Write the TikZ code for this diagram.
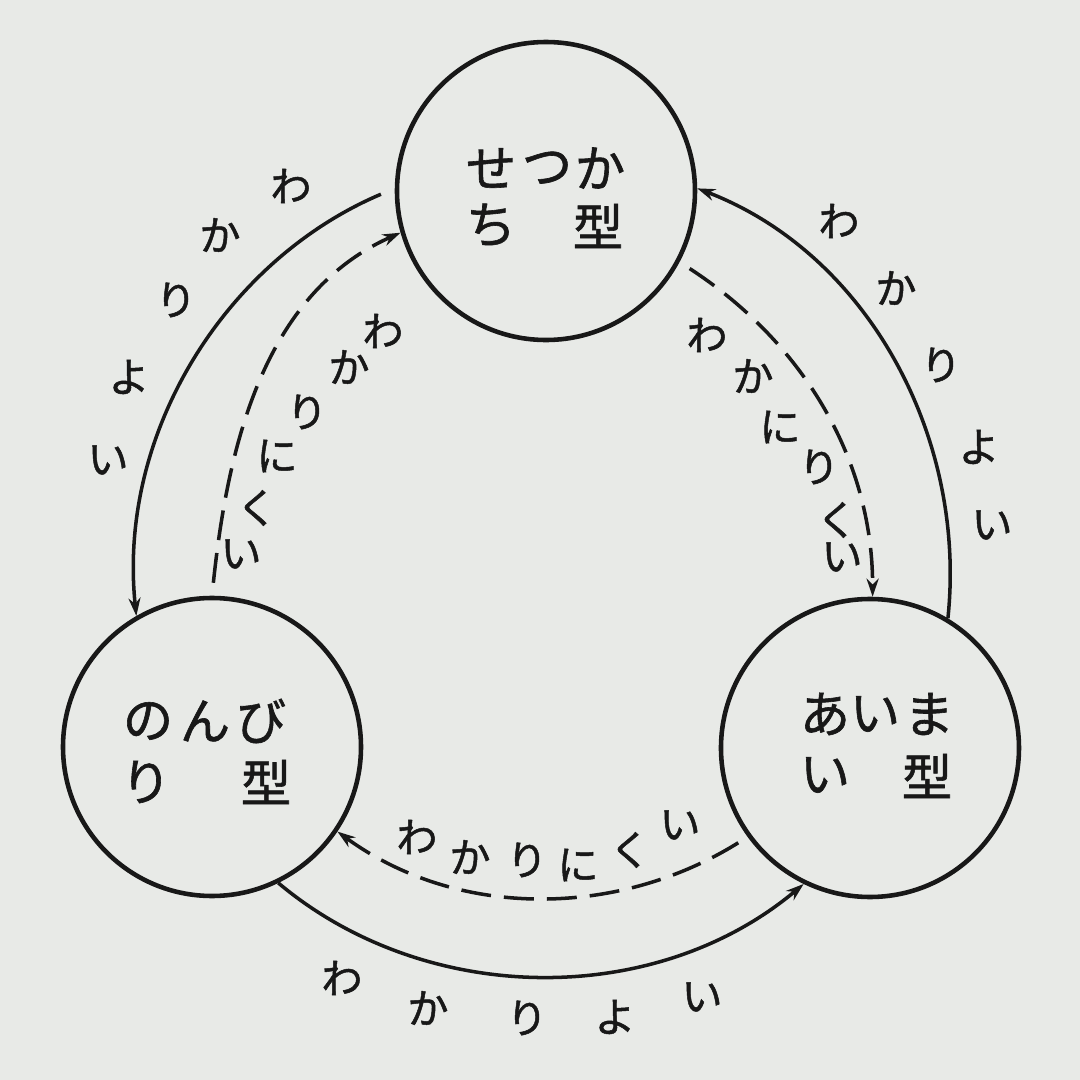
\documentclass[tikz,border=0pt]{standalone}
\usepackage{fontspec}
\newfontfamily\jp{Noto Sans CJK JP}[FakeBold=1.2]
\usetikzlibrary{arrows.meta}
\definecolor{paper}{RGB}{232,234,231}
\definecolor{ink}{RGB}{24,24,24}
\begin{document}
\begin{tikzpicture}[x=0.1mm,y=0.1mm,
  typ/.style={circle,draw=ink,line width=1.3pt,minimum size=29.8mm,inner sep=0pt},
  big/.style={font=\jp\fontsize{14.3pt}{14.3pt}\selectfont,text=ink,inner sep=0pt},
  lab/.style={font=\jp\fontsize{11.7pt}{11.7pt}\selectfont,text=ink,inner sep=0pt},
  good/.style={draw=ink,line width=1pt,looseness=0.94,-{Stealth[length=1.8mm,width=1.2mm]}},
  hard/.style={good,dash pattern=on 3mm off 1.3mm},
]
\fill[paper] (0,0) rectangle (1080,1080);
\useasboundingbox (0,0) rectangle (1080,1080);

\node[typ] (T) at (546,889) {};
\node[typ] (L) at (212,333) {};
\node[typ] (R) at (870,332) {};

% texts inside circles
\foreach \ch/\x/\y [count=\i] in {せ/491/912,つ/547/912,か/600/912,ち/491/855,型/598/854}
  \node[big] (t\i) at (\x,\y) {\ch};
\foreach \ch/\x/\y [count=\i] in {の/148/359,ん/205/359,び/261/359,り/146/298,型/266/298}
  \node[big] (l\i) at (\x,\y) {\ch};
\foreach \ch/\x/\y [count=\i] in {あ/825/366,い/875/366,ま/929/366,い/825/305,型/927/304}
  \node[big] (r\i) at (\x,\y) {\ch};

% connectors
\draw[good,shorten <=1.5mm] (T.179) to[out=203,in=96] (L.120);
\draw[good] (R.59) to[out=84,in=-21] (T.1);
\draw[good] (L.-64) to[out=-40,in=220] (R.244);
\draw[hard,shorten <=1.3mm] (L.90) to[out=84,in=204] (T.196);
\draw[hard,shorten <=1.2mm] (T.-28) to[out=-33,in=90] (R.89);
\draw[hard,shorten <=1.1mm] (R.216) to[out=212,in=-36] (L.-34);

% labels
\foreach \ch/\x/\y [count=\i] in {わ/291/894,か/220/845,り/176/780,よ/129/703,い/108/620}
  \node[lab] (lo\i) at (\x,\y) {\ch};
\foreach \ch/\x/\y [count=\i] in {わ/383/749,か/349/713,り/307/668,に/277/624,く/257/572,い/241/526}
  \node[lab] (li\i) at (\x,\y) {\ch};
\foreach \ch/\x/\y [count=\i] in {わ/839/859,か/896/792,り/941/715,よ/979/633,い/992/555}
  \node[lab] (ro\i) at (\x,\y) {\ch};
\foreach \ch/\x/\y [count=\i] in {わ/707/745,か/753/704,に/780/653,り/819/613,く/837/560,い/842/523}
  \node[lab] (ri\i) at (\x,\y) {\ch};
\foreach \ch/\x/\y [count=\i] in {わ/417/243,か/470/223,り/527/220,に/578/215,く/630/230,い/680/255}
  \node[lab] (bi\i) at (\x,\y) {\ch};
\foreach \ch/\x/\y [count=\i] in {わ/342/102,か/428/72,り/527/62,よ/615/63,い/702/83}
  \node[lab] (bo\i) at (\x,\y) {\ch};
\end{tikzpicture}
\end{document}
